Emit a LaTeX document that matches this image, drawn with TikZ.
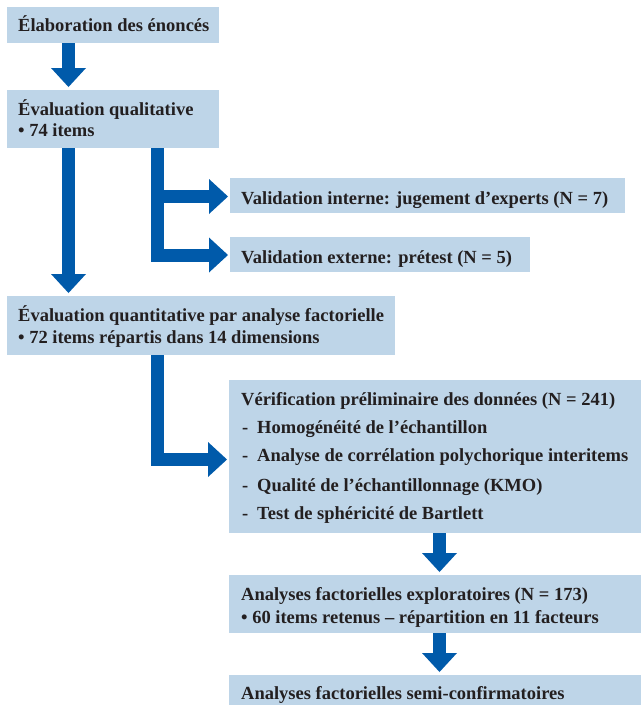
\documentclass[tikz,border=0pt]{standalone}
\usepackage{fontspec}
\setmainfont{Liberation Serif}
\usetikzlibrary{arrows.meta}
\definecolor{boxfill}{RGB}{190,213,232}
\definecolor{arrowblue}{RGB}{0,90,170}
\definecolor{txt}{RGB}{35,31,32}
\begin{document}
\begin{tikzpicture}[x=1pt,y=-1pt,
  box/.style={fill=boxfill, inner sep=0pt, anchor=north west},
  lbl/.style={anchor=base west, inner sep=0pt, text=txt, font=\fontsize{18.5}{22}\selectfont\bfseries},
  barrow/.style={draw=arrowblue, line width=13pt, line join=miter,
    -{Triangle[length=19pt,width=35pt,line width=0pt]}}]
\useasboundingbox (0,0) rectangle (641,705);
% boxes
\node[box, minimum width=212pt, minimum height=36pt] (b1) at (7,7) {};
\node[box, minimum width=212pt, minimum height=58pt] (b2) at (7,90) {};
\node[box, minimum width=395pt, minimum height=35pt] (bvi) at (230,178) {};
\node[box, minimum width=300pt, minimum height=35pt] (bve) at (230,237) {};
\node[box, minimum width=388pt, minimum height=59pt] (b3) at (7,296) {};
\node[box, minimum width=412pt, minimum height=153pt] (b4) at (229,380) {};
\node[box, minimum width=412pt, minimum height=58pt] (b5) at (229,575) {};
\node[box, minimum width=412pt, minimum height=31pt] (b6) at (229,675) {};
% texts
\node[lbl] (t1) at (18,31) {Élaboration des énoncés};
\node[lbl] (t2a) at (18,115.5) {Évaluation qualitative};
\node[lbl] (t2b) at (18,136.5) {• 74 items};
\node[lbl] (tvi) at (241,204) {Validation interne: jugement d’experts (N = 7)};
\node[lbl] (tve) at (241,263) {Validation externe: prétest (N = 5)};
\node[lbl] (t3a) at (18,321) {Évaluation quantitative par analyse factorielle};
\node[lbl] (t3b) at (18,343) {• 72 items répartis dans 14 dimensions};
\node[lbl] (t4a) at (241,405) {Vérification préliminaire des données (N = 241)};
\node[lbl] (d1) at (242,433.3) {-};
\node[lbl] (t4b) at (257,433.3) {Homogénéité de l’échantillon};
\node[lbl] (d2) at (242,461.7) {-};
\node[lbl] (t4c) at (257,461.7) {Analyse de corrélation polychorique interitems};
\node[lbl] (d3) at (242,491) {-};
\node[lbl] (t4d) at (257,491) {Qualité de l’échantillonnage (KMO)};
\node[lbl] (d4) at (242,519.3) {-};
\node[lbl] (t4e) at (257,519.3) {Test de sphéricité de Bartlett};
\node[lbl] (t5a) at (241,600) {Analyses factorielles exploratoires (N = 173)};
\node[lbl] (t5b) at (241,623) {• 60 items retenus – répartition en 11 facteurs};
\node[lbl] (t6) at (241,699) {Analyses factorielles semi-confirmatoires};
% guide coordinates
\coordinate (xl) at (68.5,0);
\coordinate (xm) at (157.5,0);
\coordinate (xr) at (439.5,0);
\coordinate (e1a) at (0,196.5);
\coordinate (e1b) at (0,255);
\coordinate (e2) at (0,459.5);
% arrows
\draw[barrow, shorten >=3pt] (b1.south -| xl) -- (b2.north -| xl);
\draw[barrow, shorten >=3pt] (b2.south -| xl) -- (b3.north -| xl);
\draw[barrow, shorten >=2pt] (b2.south -| xm) |- (bvi.west |- e1a);
\draw[barrow, shorten >=2pt] (b2.south -| xm) |- (bve.west |- e1b);
\draw[barrow, shorten >=2pt] (b3.south -| xm) |- (b4.west |- e2);
\draw[barrow, shorten >=3pt] (b4.south -| xr) -- (b5.north -| xr);
\draw[barrow, shorten >=3pt] (b5.south -| xr) -- (b6.north -| xr);
\end{tikzpicture}
\end{document}
